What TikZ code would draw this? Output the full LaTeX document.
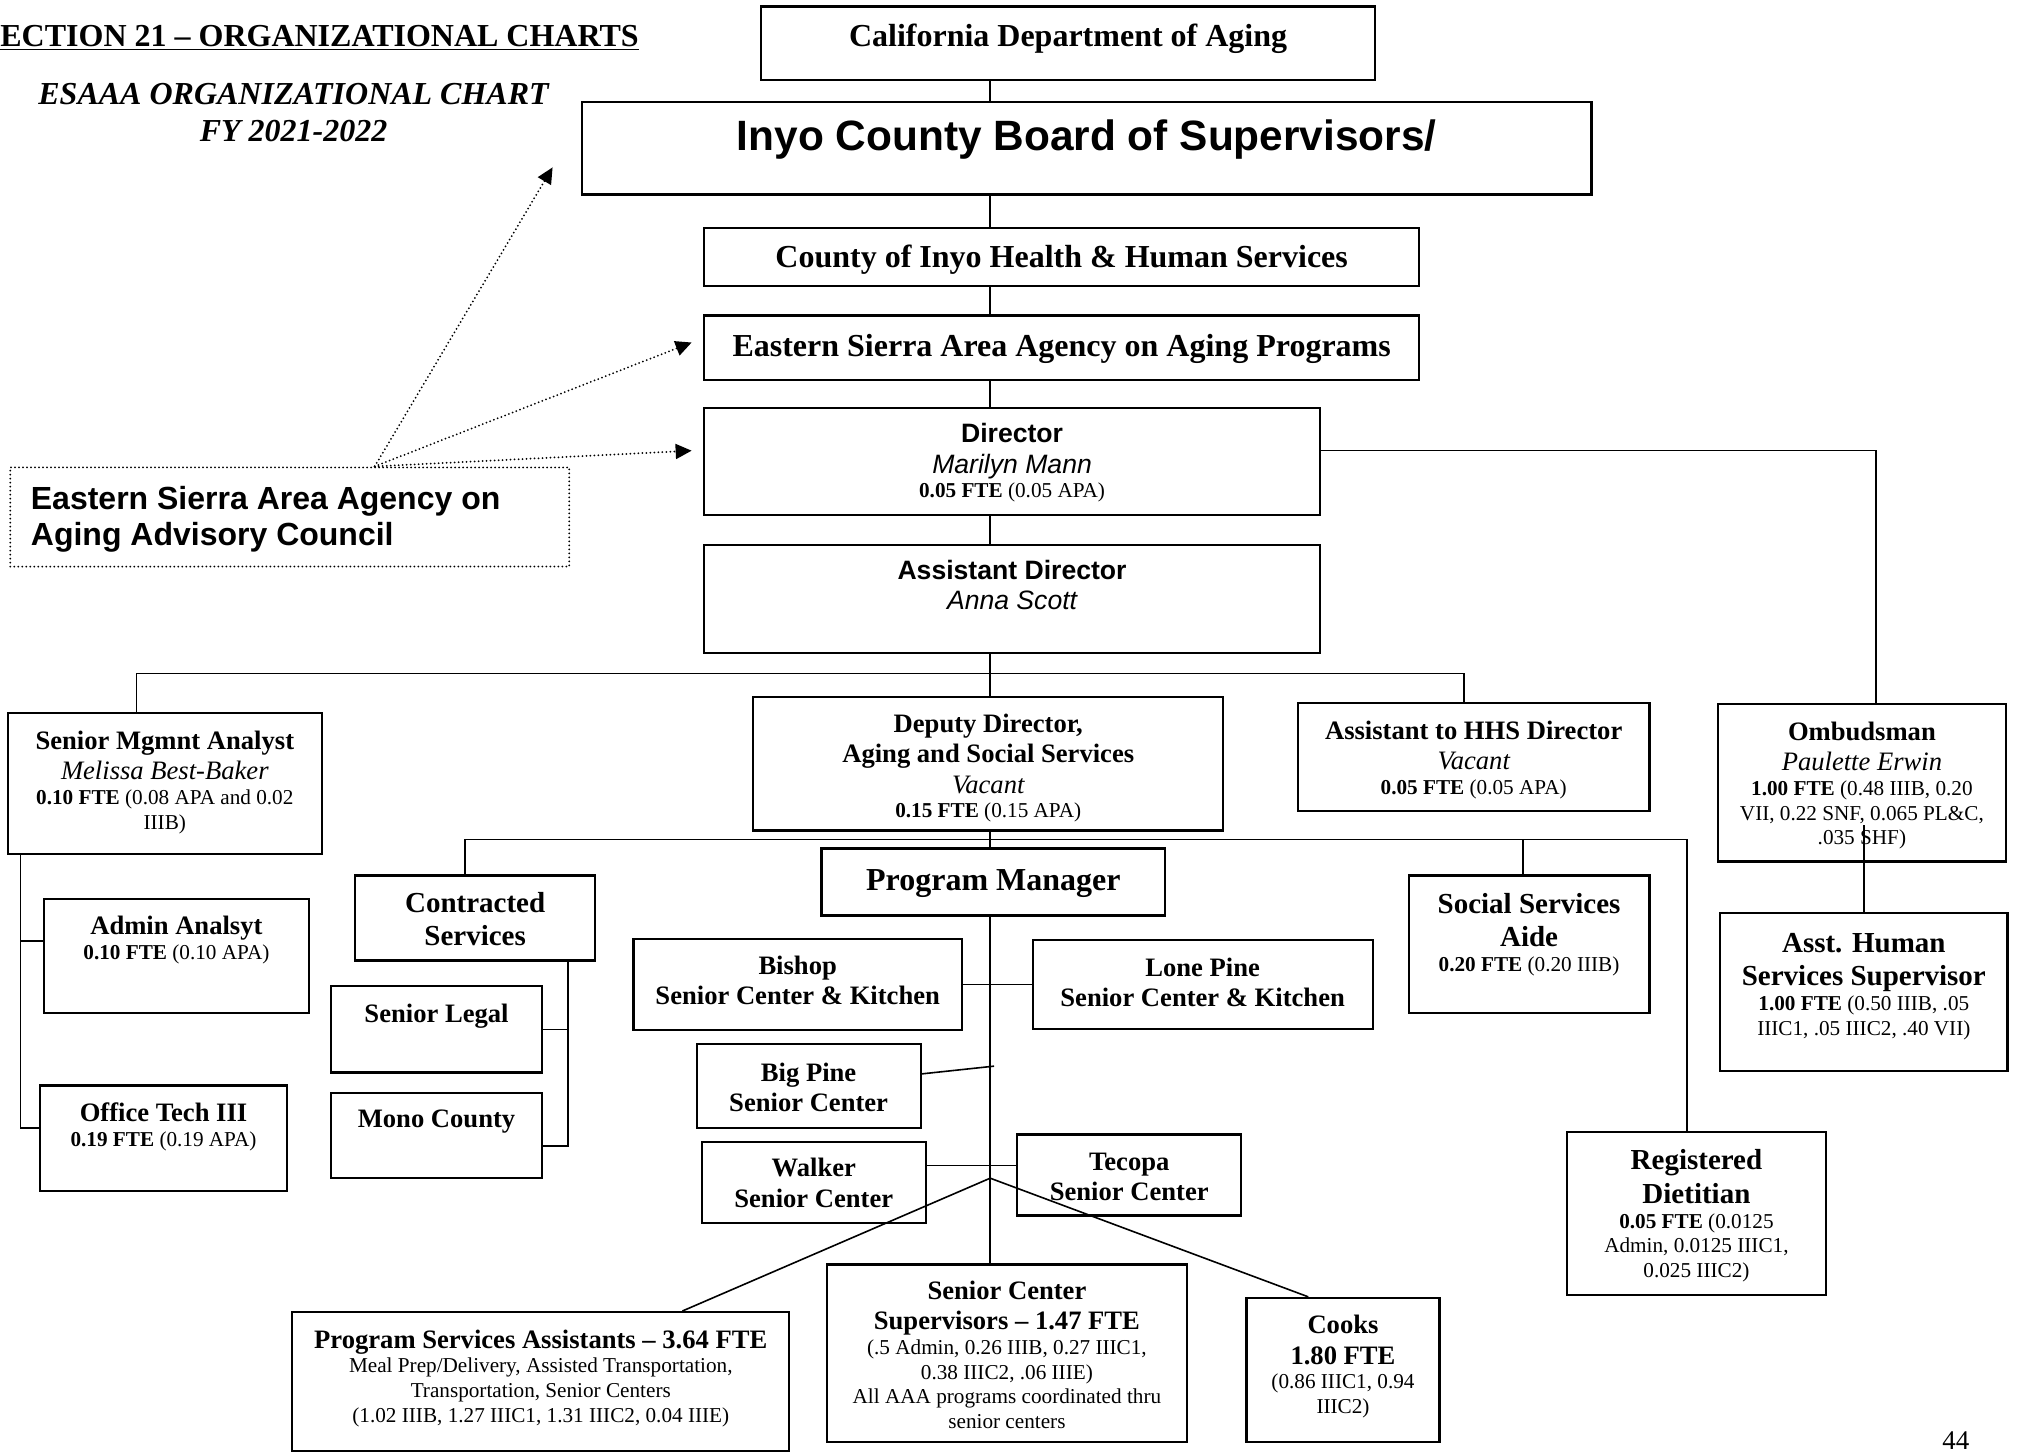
\documentclass[tikz,border=0pt]{standalone}
\usepackage{fontspec}
\setmainfont{Liberation Serif}
\newfontfamily\arial{Liberation Sans}
\usetikzlibrary{arrows.meta,calc}

\newlength{\unitpx}
\setlength{\unitpx}{0.6438pt}
% text block of a box: width, height, first baseline, lines
\newcommand{\boxlines}[4]{\vbox to #2\unitpx{\hsize=#1\unitpx\relax\vskip#3\unitpx\relax #4\vss}}
\newcommand{\cenrow}[1]{\hbox to\hsize{\hss\raisebox{0pt}[0pt][0pt]{#1}\hss}}
\newcommand{\lefrow}[1]{\hbox to\hsize{\hskip16\unitpx\raisebox{0pt}[0pt][0pt]{#1}\hss}}
% fonts
\newcommand{\fT}{\rmfamily\fontsize{16}{18}\selectfont\bfseries\upshape}
\newcommand{\fTI}{\rmfamily\fontsize{16}{18.7}\selectfont\bfseries\itshape}
\newcommand{\fL}{\rmfamily\fontsize{14.5}{16.7}\selectfont\bfseries\upshape}
\newcommand{\fM}{\rmfamily\fontsize{13.3}{15.1}\selectfont\bfseries\upshape}
\newcommand{\fN}{\rmfamily\fontsize{13.3}{15.1}\selectfont\mdseries\itshape}
\newcommand{\fS}{\rmfamily\fontsize{10.6}{12.4}\selectfont\mdseries\upshape}
\newcommand{\fAT}{\arial\fontsize{21.2}{24}\selectfont\bfseries\upshape}
\newcommand{\fAB}{\arial\fontsize{13.3}{15.1}\selectfont\bfseries\upshape}
\newcommand{\fAI}{\arial\fontsize{13.3}{15.1}\selectfont\mdseries\itshape}
\newcommand{\fC}{\arial\fontsize{16}{18}\selectfont\bfseries\upshape}

\tikzstyle{unit}=[draw,line width=1.1pt,inner sep=0pt]
\tikzstyle{advisory}=[draw,line width=1pt,line cap=round,dash pattern=on 0pt off 2pt,inner sep=0pt]
\tikzstyle{textonly}=[inner sep=0pt]
\tikzstyle{link}=[line width=0.8pt]
\tikzstyle{advise}=[line width=1pt,line cap=round,dash pattern=on 0pt off 2pt,-{Triangle[length=8pt,width=7.5pt,line cap=butt]}]

\begin{document}
\begin{tikzpicture}[x=0.6438pt,y=-0.6438pt]
\useasboundingbox (0,0) rectangle (1568,1128);
% titles
\node[textonly,anchor=base west] (hdr) at (0,36) {\fT\underline{ECTION 21 – ORGANIZATIONAL CHARTS}};
\node[textonly] (sub) at (228,86) {\boxlines{440}{62}{26}{\fTI\cenrow{ESAAA ORGANIZATIONAL CHART}\cenrow{FY 2021-2022}}};
\node[textonly,anchor=base] (page) at (1519,1126) {\fontsize{13.5}{15}\selectfont 44};
% chain of command
\node[unit] (cda) at (829.5,33.5) {\boxlines{477}{57}{31}{\fT\cenrow{California Department of Aging}}};
\node[unit] (inyo) at (844,115) {\boxlines{784}{72}{38}{\fAT\cenrow{Inyo County Board of Supervisors/}}};
\node[unit] (hhs) at (824.5,199.5) {\boxlines{555}{45}{31}{\fT\cenrow{County of Inyo Health \& Human Services}}};
\node[unit] (esaaa) at (824.5,270) {\boxlines{555}{50}{31.5}{\fT\cenrow{Eastern Sierra Area Agency on Aging Programs}}};
\node[unit] (dir) at (786,358.5) {\boxlines{478}{83}{27}{\fAB\cenrow{Director}\fAI\cenrow{Marilyn Mann}\fS\cenrow{\textbf{0.05 FTE} (0.05 APA)}}};
\node[unit] (adir) at (786,465) {\boxlines{478}{84}{27}{\fAB\cenrow{Assistant Director}\fAI\cenrow{Anna Scott}}};
\node[advisory] (council) at (225,401.5) {\boxlines{434}{77}{32.5}{\fC\lefrow{Eastern Sierra Area Agency on}\lefrow{Aging Advisory Council}}};
% staff under the assistant director
\node[unit] (sma) at (128,608.5) {\boxlines{244}{109}{28}{\fM\cenrow{Senior Mgmnt Analyst}\fN\cenrow{Melissa Best-Baker}\fS\cenrow{\textbf{0.10 FTE} (0.08 APA and 0.02}\cenrow{IIIB)}}};
\node[unit] (admin) at (137,742.5) {\boxlines{206}{89}{28}{\fM\cenrow{Admin Analsyt}\fS\cenrow{\textbf{0.10 FTE} (0.10 APA)}}};
\node[unit] (otech) at (127,884) {\boxlines{192}{82}{28}{\fM\cenrow{Office Tech III}\fS\cenrow{\textbf{0.19 FTE} (0.19 APA)}}};
\node[unit] (dep) at (767.5,593) {\boxlines{365}{104}{28}{\fM\cenrow{Deputy Director,}\cenrow{Aging and Social Services}\fN\cenrow{Vacant}\fS\cenrow{\textbf{0.15 FTE} (0.15 APA)}}};
\node[unit] (ahhs) at (1144.5,588) {\boxlines{273}{84}{28}{\fM\cenrow{Assistant to HHS Director}\fN\cenrow{Vacant}\fS\cenrow{\textbf{0.05 FTE} (0.05 APA)}}};
\node[unit] (omb) at (1446,608) {\boxlines{224}{122}{28}{\fM\cenrow{Ombudsman}\fN\cenrow{Paulette Erwin}\fS\cenrow{\textbf{1.00 FTE} (0.48 IIIB, 0.20}\cenrow{VII, 0.22 SNF, 0.065 PL\&C,}\cenrow{.035 SHF)}}};
\node[unit] (ahs) at (1447.5,770.5) {\boxlines{223}{123}{30.5}{\fL\cenrow{Asst. Human}\cenrow{Services Supervisor}\fS\cenrow{\textbf{1.00 FTE} (0.50 IIIB, .05}\cenrow{IIIC1, .05 IIIC2, .40 VII)}}};
% under the deputy director
\node[unit] (con) at (369,713) {\boxlines{186}{66}{28.5}{\fL\cenrow{Contracted}\cenrow{Services}}};
\node[unit] (legal) at (339,799.5) {\boxlines{164}{67}{28}{\fM\cenrow{Senior Legal}}};
\node[unit] (mono) at (339,882) {\boxlines{164}{66}{27}{\fM\cenrow{Mono County}}};
\node[unit] (pm) at (771.5,685) {\boxlines{267}{52}{32.5}{\fT\cenrow{Program Manager}}};
\node[unit] (ssa) at (1187.5,733.5) {\boxlines{187}{107}{29.5}{\fL\cenrow{Social Services}\cenrow{Aide}\fS\cenrow{\textbf{0.20 FTE} (0.20 IIIB)}}};
\node[unit] (rd) at (1317.5,942.5) {\boxlines{201}{127}{29.5}{\fL\cenrow{Registered}\cenrow{Dietitian}\fS\cenrow{\textbf{0.05 FTE} (0.0125}\cenrow{Admin, 0.0125 IIIC1,}\cenrow{0.025 IIIC2)}}};
% senior centers
\node[unit] (bishop) at (619.5,764.5) {\boxlines{255}{71}{28}{\fM\cenrow{Bishop}\cenrow{Senior Center \& Kitchen}}};
\node[unit] (lone) at (934,764.5) {\boxlines{264}{69}{28}{\fM\cenrow{Lone Pine}\cenrow{Senior Center \& Kitchen}}};
\node[unit] (bigpine) at (628,843.5) {\boxlines{174}{65}{29}{\fM\cenrow{Big Pine}\cenrow{Senior Center}}};
\node[unit] (walker) at (632,918.5) {\boxlines{174}{63}{27}{\fM\cenrow{Walker}\cenrow{Senior Center}}};
\node[unit] (tecopa) at (877,912.5) {\boxlines{174}{63}{28}{\fM\cenrow{Tecopa}\cenrow{Senior Center}}};
\node[unit] (psa) at (420,1073) {\boxlines{386}{108}{28}{\fM\cenrow{Program Services Assistants – 3.64 FTE}\fS\cenrow{Meal Prep/Delivery, Assisted Transportation,}\cenrow{Transportation, Senior Centers}\cenrow{(1.02 IIIB, 1.27 IIIC1, 1.31 IIIC2, 0.04 IIIE)}}};
\node[unit] (scs) at (782,1051) {\boxlines{280}{138}{27}{\fM\cenrow{Senior Center}\cenrow{Supervisors – 1.47 FTE}\fS\cenrow{(.5 Admin, 0.26 IIIB, 0.27 IIIC1,}\cenrow{0.38 IIIC2, .06 IIIE)}\cenrow{All AAA programs coordinated thru}\cenrow{senior centers}}};
\node[unit] (cooks) at (1043,1064) {\boxlines{150}{112}{28}{\fM\cenrow{Cooks}\cenrow{1.80 FTE}\fS\cenrow{(0.86 IIIC1, 0.94}\cenrow{IIIC2)}}};

% main spine
\coordinate (spine) at (769,0);
\draw[link] (cda.south -| spine) -- (inyo.north -| spine);
\draw[link] (inyo.south -| spine) -- (hhs.north -| spine);
\draw[link] (hhs.south -| spine) -- (esaaa.north -| spine);
\draw[link] (esaaa.south -| spine) -- (dir.north -| spine);
\draw[link] (dir.south -| spine) -- (adir.north -| spine);
\draw[link] (adir.south -| spine) -- (dep.north -| spine);
\draw[link] (dep.south -| spine) -- (pm.north -| spine);
\draw[link] (pm.south -| spine) -- (scs.north -| spine);
% first bus and ombudsman
\coordinate (bus1) at (769,523);
\draw[link] ($(sma.north)+(-22,0)$) |- (bus1) -| ($(ahhs.north)+(-7.5,0)$);
\draw[link] ($(dir.east)+(0,-8.5)$) -| ($(omb.north)+(11,0)$);
\draw[link] ($(omb.south)+(1.5,-29)$) -- (ahs.north);
% senior mgmnt analyst branch
\draw[link] ($(sma.south)+(-112,0)$) coordinate (smabr) |- ($(otech.west)+(0,-8)$);
\draw[link] ($(admin.west)+(0,-11.5)$) coordinate (adminin) -- (adminin -| smabr);
% second bus
\coordinate (bus2) at (769,652);
\draw[link] ($(con.north)+(-8,0)$) |- (bus2) -| ($(rd.north)+(-7.5,0)$);
\path ($(ssa.north)+(-4.5,0)$) coordinate (ssatop);
\draw[link] (ssatop) -- (ssatop |- bus2);
% contracted services branch
\draw[link] ($(con.south)+(72,0)$) coordinate (conbr) |- ($(mono.east)+(0,8)$);
\draw[link] (legal.east) -- (legal.east -| conbr);
% senior centers
\draw[link] (bishop.east) -- (lone.west);
\coordinate (bpjoin) at (772,828);
\draw[link] ($(bigpine.east)+(0,-9.5)$) -- (bpjoin);
\coordinate (wtjoin) at (769,905);
\draw[link] (walker.east |- wtjoin) -- (tecopa.west |- wtjoin);
\coordinate (fan) at (769,915);
\draw[link] ($(psa.north)+(110,0)$) -- (fan) -- ($(cooks.north)+(-27,0)$);
% advisory council
\coordinate (counciltop) at ($(council.north)+(66,0)$);
\draw[advise] (counciltop) -- ($(inyo.west)+(-22,15)$);
\draw[advise] (counciltop) -- ($(esaaa.west)+(-9,-4)$);
\draw[advise] (counciltop) -- ($(dir.west)+(-9,-8.5)$);
\end{tikzpicture}
\end{document}
